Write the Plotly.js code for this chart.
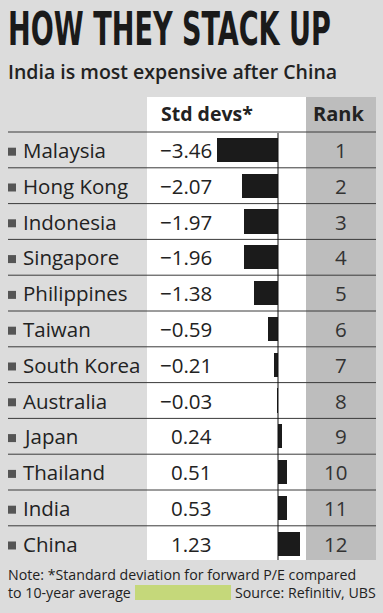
<!DOCTYPE html>
<html><head><meta charset="utf-8">
<script src="https://cdn.plot.ly/plotly-3.0.1.min.js"></script>
<style>html,body{margin:0;padding:0;background:#dcdcdc;}#chart{width:383px;height:613px;}</style>
</head><body><div id="chart"></div>
<script>
const countries = ["Malaysia","Hong Kong","Indonesia","Singapore","Philippines","Taiwan","South Korea","Australia","Japan","Thailand","India","China"];
const stdDevs = [-3.46,-2.07,-1.97,-1.96,-1.38,-0.59,-0.21,-0.03,0.24,0.51,0.53,1.23];
const ranks = [1,2,3,4,5,6,7,8,9,10,11,12];
const titleText = "HOW THEY STACK UP";
const subtitleText = "India is most expensive after China";
const colHeaders = ["Std devs*","Rank"];
const noteLine1 = "Note: *Standard deviation for forward P/E compared";
const noteLine2a = "to 10-year average";
const noteLine2b = "Source: Refinitiv, UBS";

const W = 383, H = 613;
const X = px => px / W;
const Y = py => 1 - py / H;
const zeroPx = 278, pxPerUnit = 17.5;
const rowTop = 132, rowH = 35.8;
const firstCenter = rowTop + rowH / 2;
const idx = countries.map((_, i) => i);

const font = "'Open Sans', 'Noto Sans', sans-serif";
const txt = "#222";
const titleFamily = "'Liberation Sans Narrow', 'DejaVu Sans Condensed', 'DejaVu Sans', sans-serif";
const titleWidth = 323;

const fmt = v => v.toFixed(2).replace("-", "\u2212");

const traces = [
  {type: "bar", orientation: "h", x: stdDevs, y: idx, width: 0.68,
   marker: {color: "#1b1b1b"}, hoverinfo: "skip"},
  {type: "scatter", mode: "markers", x: idx.map(() => (12 - zeroPx) / pxPerUnit), y: idx.map(i => i + 0.05),
   marker: {symbol: "square", size: 8, color: "#555"}, hoverinfo: "skip"}
];

const shapes = [
  {type: "rect", xref: "paper", yref: "paper", x0: X(147), x1: X(306), y0: Y(560), y1: Y(97), fillcolor: "#ffffff", line: {width: 0}, layer: "below"},
  {type: "rect", xref: "paper", yref: "paper", x0: X(306), x1: X(376), y0: Y(560), y1: Y(97), fillcolor: "#bdbdbd", line: {width: 0}, layer: "below"},
  {type: "rect", xref: "paper", yref: "paper", x0: X(135), x1: X(231), y0: Y(600), y1: Y(585), fillcolor: "#c5d87a", line: {width: 0}, layer: "below"},
  {type: "line", xref: "x", yref: "paper", x0: 0, x1: 0, y0: Y(560), y1: Y(133), line: {color: "#111", width: 1}, layer: "above"}
];
for (let i = 0; i < countries.length; i++) {
  shapes.push({type: "line", xref: "paper", yref: "y", x0: X(8), x1: X(376), y0: i - 0.5, y1: i - 0.5,
    line: {color: "#3a3a3a", width: 1}, layer: "below"});
}

const annotations = [
  {text: "<b>" + titleText + "</b>", xref: "paper", yref: "paper", x: X(6), y: Y(29), xanchor: "left", yanchor: "middle", showarrow: false,
   font: {family: titleFamily, size: 47, color: "#1a1a1a"}},
  {text: subtitleText, xref: "paper", yref: "paper", x: X(6), y: Y(71), xanchor: "left", yanchor: "middle", showarrow: false,
   font: {family: font, size: 19.5, color: txt, weight: 600}},
  {text: "<b>" + colHeaders[0] + "</b>", xref: "paper", yref: "paper", x: X(207), y: Y(114), xanchor: "center", yanchor: "middle", showarrow: false,
   font: {family: font, size: 19.5, color: txt}},
  {text: "<b>" + colHeaders[1] + "</b>", xref: "paper", yref: "paper", x: X(338), y: Y(114), xanchor: "center", yanchor: "middle", showarrow: false,
   font: {family: font, size: 20, color: txt}},
  {text: noteLine1, xref: "paper", yref: "paper", x: X(6), y: Y(574), xanchor: "left", yanchor: "middle", showarrow: false,
   font: {family: font, size: 14.2, color: txt}},
  {text: noteLine2a, xref: "paper", yref: "paper", x: X(6), y: Y(592), xanchor: "left", yanchor: "middle", showarrow: false,
   font: {family: font, size: 14.2, color: txt}},
  {text: noteLine2b, xref: "paper", yref: "paper", x: X(378), y: Y(592), xanchor: "right", yanchor: "middle", showarrow: false,
   font: {family: font, size: 14.2, color: txt}}
];
countries.forEach((c, i) => {
  annotations.push({text: c, xref: "paper", yref: "y", x: X(21), y: i, xanchor: "left", yanchor: "middle", showarrow: false,
    font: {family: font, size: 20.5, color: txt}});
  annotations.push({text: fmt(stdDevs[i]), xref: "paper", yref: "y", x: X(214), y: i, xanchor: "right", yanchor: "middle", showarrow: false,
    font: {family: font, size: 20.5, color: txt}});
  annotations.push({text: String(ranks[i]), xref: "paper", yref: "y", x: X(349), y: i, xanchor: "right", yanchor: "middle", showarrow: false,
    font: {family: font, size: 20.5, color: "#333"}});
});

const layout = {
  width: W, height: H, margin: {l: 0, r: 0, t: 0, b: 0},
  paper_bgcolor: "#dcdcdc", plot_bgcolor: "rgba(0,0,0,0)",
  showlegend: false,
  xaxis: {range: [-zeroPx / pxPerUnit, (W - zeroPx) / pxPerUnit], visible: false, fixedrange: true},
  yaxis: {range: [(H - firstCenter) / rowH, -firstCenter / rowH], visible: false, fixedrange: true},
  shapes: shapes, annotations: annotations, bargap: 0
};
Plotly.newPlot("chart", traces, layout, {displayModeBar: false, staticPlot: true}).then(() => {
  // condense the headline horizontally so it keeps its tall cap height
  const t = document.querySelector('#chart .annotation[data-index="0"] text');
  if (t) {
    const bb = t.getBBox();
    if (bb.width > titleWidth) {
      const s = titleWidth / bb.width;
      t.setAttribute("transform", `translate(${bb.x},0) scale(${s},1) translate(${-bb.x},0)`);
    }
  }
});
</script></body></html>
